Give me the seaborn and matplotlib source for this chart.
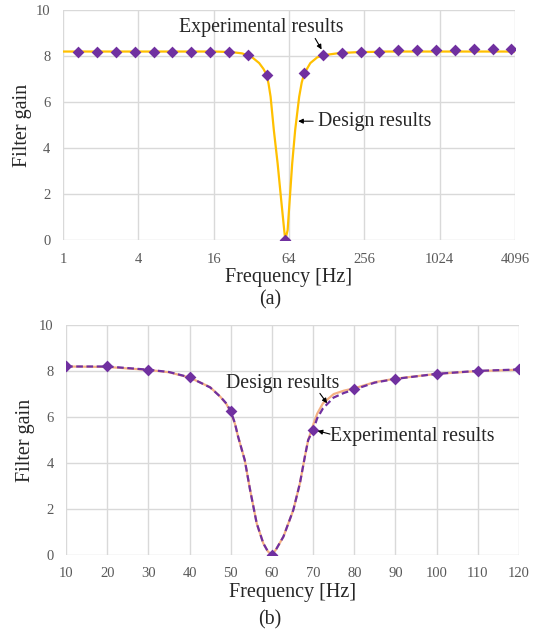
import numpy as np
import pandas as pd
import matplotlib
matplotlib.use("Agg")
import matplotlib.pyplot as plt
import seaborn as sns

# (a) log-scale sweep
freq_a_exp = [1.33, 1.88, 2.65, 3.75, 5.3, 7.5, 10.6, 15, 21.2, 30, 42.4, 60,
              84.9, 120, 170, 240, 339, 480, 679, 960, 1358, 1920, 2715, 3840]
gain_a_exp = [8.2, 8.2, 8.2, 8.2, 8.2, 8.2, 8.2, 8.2, 8.2, 8.07, 7.2, 0.0,
              7.25, 8.05, 8.15, 8.2, 8.2, 8.25, 8.25, 8.25, 8.25, 8.3, 8.3, 8.3]
freq_a_des = [1, 16, 22, 27, 32, 37, 40, 42.4, 44, 45.7, 48.5, 52, 55.2, 58.7, 59.5, 60,
              60.7, 62.5, 65.2, 68, 71.8, 77.3, 81, 85, 95, 108, 125, 160, 220, 400, 4096]
gain_a_des = [8.2, 8.2, 8.18, 8.12, 7.98, 7.7, 7.45, 7.2, 6.8, 6.23, 4.78, 3.33, 1.88, 0.43, 0.14, 0.0,
              0.14, 0.43, 1.88, 3.33, 4.78, 6.23, 6.85, 7.25, 7.7, 7.95, 8.05, 8.13, 8.17, 8.2, 8.2]

# (b) linear sweep around the notch
freq_b_exp = [10, 20, 30, 40, 50, 60, 70, 80, 90, 100, 110, 120]
gain_b_exp = [8.2, 8.2, 8.06, 7.73, 6.26, 0.0, 5.43, 7.2, 7.66, 7.88, 8.01, 8.07]
freq_b_des = [10, 20, 30, 35, 40, 45, 47.5, 49, 50, 51, 51.8, 53.4, 54.7, 56.3, 57.9, 59, 60,
              61, 62.8, 65.2, 66.8, 68, 68.8, 70, 71, 72.4, 75, 77.5, 80, 85, 90, 100, 110, 120]
gain_b_des = [8.2, 8.18, 8.05, 7.95, 7.72, 7.3, 6.88, 6.55, 6.2, 5.72, 5.14, 4.13, 2.83, 1.38, 0.51, 0.16, 0.0,
              0.24, 0.8, 1.96, 3.12, 4.28, 5.0, 5.65, 6.15, 6.6, 7.0, 7.15, 7.25, 7.52, 7.67, 7.88, 8.0, 8.06]
# dashed smoothed line drawn through the experimental points
freq_b_exl = [10, 20, 30, 35, 40, 45, 47.5, 49, 50, 51, 51.8, 53.4, 54.7, 56.3, 57.9, 59, 60,
              61, 62.8, 65.2, 66.8, 68, 68.8, 70, 71, 72.4, 75, 77.5, 80, 85, 90, 100, 110, 120]
gain_b_exl = [8.2, 8.2, 8.06, 7.96, 7.73, 7.29, 6.88, 6.58, 6.26, 5.74, 5.14, 4.13, 2.83, 1.38, 0.51, 0.16, 0.0,
              0.24, 0.8, 1.96, 3.12, 4.28, 5.0, 5.43, 5.95, 6.38, 6.85, 7.05, 7.2, 7.5, 7.66, 7.88, 8.01, 8.07]

a_ticks = [1, 4, 16, 64, 256, 1024, 4096]
b_ticks = [10, 20, 30, 40, 50, 60, 70, 80, 90, 100, 110, 120]

sns.set_style("whitegrid", {"grid.color": "#D9D9D9"})
plt.rcParams['font.family'] = ['Liberation Serif', 'DejaVu Serif']

purple = "#7030A0"
gold = "#FFC000"
peach = "#F4B183"
tick_col = "#595959"
arrow = dict(arrowstyle='-|>', color='black', lw=0.8, mutation_scale=7, shrinkA=0, shrinkB=0)

fig = plt.figure(figsize=(5.38, 6.35), dpi=100)
ax1 = fig.add_axes([0.117, 0.622, 0.840, 0.362])
ax2 = fig.add_axes([0.1227, 0.126, 0.842, 0.362])


def style(ax):
    for s in ax.spines.values():
        s.set_visible(False)
    ax.grid(True, color="#D9D9D9", linewidth=1)
    ax.set_axisbelow(True)
    ax.tick_params(axis='both', length=0, pad=9, labelsize=10.5, labelcolor=tick_col)
    ax.set_ylim(0, 10)
    ax.set_yticks([0, 2, 4, 6, 8, 10])
    ax.set_ylabel("Filter gain", fontsize=14.5, labelpad=3)
    ax.set_xlabel("Frequency [Hz]", fontsize=14.5, labelpad=2)


# ---- (a)
sns.lineplot(x=freq_a_des, y=gain_a_des, ax=ax1, color=gold, linewidth=1.6, sort=False)
sns.scatterplot(x=freq_a_exp, y=gain_a_exp, ax=ax1, color=purple, marker='D', s=36,
                linewidth=0, zorder=3)
ax1.set_xscale('log', base=2)
ax1.set_xlim(1, 4096)
ax1.set_xticks(a_ticks)
ax1.set_xticklabels([str(t) for t in a_ticks])
ax1.minorticks_off()
style(ax1)
ax1.text(38.6, 9.26, "Experimental results", ha='center', va='center', fontsize=14.3)
ax1.annotate("", xy=(116.8, 8.29), xytext=(103.8, 8.77), arrowprops=arrow)
ax1.text(309.7, 5.17, "Design results", ha='center', va='center', fontsize=14.3)
ax1.annotate("", xy=(75.9, 5.17), xytext=(100.1, 5.17), arrowprops=arrow)
fig.text(0.502, 0.527, "(a)", ha='center', va='center', fontsize=14.3)

# ---- (b)
sns.lineplot(x=freq_b_des, y=gain_b_des, ax=ax2, color=peach, linewidth=1.6, sort=False)
sns.lineplot(x=freq_b_exl, y=gain_b_exl, ax=ax2, color=purple, linewidth=1.6,
             linestyle=(0, (3, 1.6)), sort=False)
sns.scatterplot(x=freq_b_exp, y=gain_b_exp, ax=ax2, color=purple, marker='D', s=36,
                linewidth=0, zorder=3)
ax2.set_xlim(10, 120)
ax2.set_xticks(b_ticks)
style(ax2)
ax2.text(62.7, 7.48, "Design results", ha='center', va='center', fontsize=14.3)
ax2.annotate("", xy=(73.4, 6.6), xytext=(71.65, 7.03), arrowprops=arrow)
ax2.text(94.1, 5.17, "Experimental results", ha='center', va='center', fontsize=14.3)
ax2.annotate("", xy=(71.1, 5.4), xytext=(74.1, 5.26), arrowprops=arrow)
fig.text(0.502, 0.024, "(b)", ha='center', va='center', fontsize=14.3)

fig.savefig("out.png", dpi=100)
